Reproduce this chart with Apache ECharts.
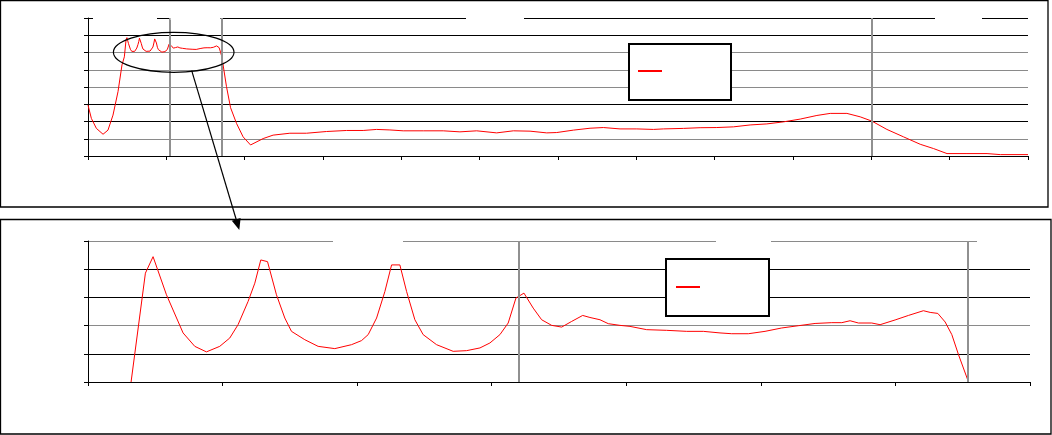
<!DOCTYPE html>
<html><head><meta charset="utf-8">
<script src="https://cdn.jsdelivr.net/npm/echarts@6/dist/echarts.min.js"></script>
<style>html,body{margin:0;padding:0;background:#fff}#c{width:1052px;height:435px}</style>
</head><body><div id="c"></div><script>
// Overview (top panel) values outside the zoomed window
const overviewHead = [[0,29.5],[4.3,21.8],[10.7,16.0],[19.2,12.6],[25.5,15.0],[31.9,23.7],[38.3,37.3],[43.4,52.8]];
const overviewTail = [[176.8,40.2],[182,28],[189.6,18.9],[198,11.1],[207.5,6.4],[223.6,10.1],[236.3,12.1],[257.7,13.2],[279,13.2],[304.5,14.2],[330.1,14.8],[351.3,14.8],[368.4,15.4],[385.4,15.1],[402.4,14.6],[428,14.6],[453.5,14.6],[474.8,14.0],[496.2,14.6],[521.7,13.4],[543,14.6],[564.3,14.4],[585.6,13.4],[598.4,13.6],[619.6,15.0],[640.9,16.1],[657.9,16.5],[679.2,15.7],[700.6,15.7],[721.8,15.4],[734.5,15.7],[760.1,16.0],[781.4,16.4],[802.7,16.5],[824,16.9],[845.3,18.0],[866.6,18.6],[887.9,19.8],[909.2,21.4],[930.5,23.5],[947.5,24.7],[968.8,24.7],[985.8,22.7],[1000.8,20.2],[1019.9,15.4],[1041.1,11.1],[1062.4,6.8],[1079.5,4.3],[1096.6,1.4],[1122.1,1.4],[1147.7,1.4],[1164.7,0.8],[1200,0.8]];
// Detail (bottom panel) values
const detailData = [[46.4,57.5],[48.53,67.15],[49.67,68.61],[51.66,65.23],[54.13,61.85],[55.87,60.66],[57.6,60.17],[59.58,60.66],[61.07,61.4],[62.3,62.58],[63.79,64.64],[64.79,66.26],[65.68,68.32],[66.68,68.17],[68.01,65.23],[69.25,63.17],[70.24,61.99],[72.22,61.25],[74.2,60.66],[76.68,60.46],[79.17,60.81],[80.65,61.17],[81.64,61.7],[82.89,63.17],[84.12,65.52],[85.12,67.88],[86.35,67.88],[87.35,65.52],[88.58,63.02],[89.81,61.7],[91.8,60.81],[94.27,60.22],[96.27,60.28],[98.25,60.52],[99.73,60.96],[101.22,61.7],[102.45,62.73],[103.6,64.94],[104.79,65.38],[106.17,64.05],[107.42,63.02],[108.91,62.52],[110.4,62.37],[111.88,62.87],[113.52,63.4],[114.6,63.22],[116.09,63.02],[117.32,62.67],[119.06,62.52],[120.55,62.43],[123.03,62.14],[126.0,62.08],[128.98,61.99],[131.45,61.99],[133.93,61.85],[135.67,61.78],[138.14,61.78],[140.62,61.99],[143.1,62.29],[145.58,62.49],[148.06,62.69],[150.54,62.76],[152.03,62.76],[153.26,62.93],[154.5,62.73],[156.48,62.73],[157.72,62.58],[159.95,63.0],[161.93,63.4],[164.16,63.82],[165.16,63.67],[166.3,63.58],[167.39,62.82],[168.38,61.7],[169.37,59.93],[170.86,57.5]];
// Reference (vertical) marker positions
const topMarkers = [104, 170.8, 1001];
const bottomMarkers = [104, 170.8];
// Axis ranges
const topX = {min:0, max:1200, interval:100};
const topY = {min:0, max:80, interval:10};
const botX = {min:40, max:180, interval:20};
const botY = {min:57.5, max:70, interval:2.5};

const topSeriesData = overviewHead.concat(detailData, overviewTail);
const K = '#000', G = '#8a8a8a';
const chart = echarts.init(document.getElementById('c'), null, {renderer:'canvas'});

function axisX(idx, r){
  return {type:'value', gridIndex:idx, min:r.min, max:r.max, interval:r.interval,
    axisLine:{show:true, onZero:false, lineStyle:{color:'#000', width:1}},
    axisTick:{show:true, length:4, lineStyle:{color:'#000'}},
    axisLabel:{show:false}, splitLine:{show:false}};
}
function axisY(idx, r, colors){
  return {type:'value', gridIndex:idx, min:r.min, max:r.max, interval:r.interval,
    axisLine:{show:true, lineStyle:{color:'#000', width:1}},
    axisTick:{show:true, length:4, lineStyle:{color:'#000'}},
    axisLabel:{show:false},
    splitLine:{show:true, lineStyle:{color:colors, width:1}}};
}
function marks(vals){
  return {silent:true, symbol:['none','none'], label:{show:false},
    lineStyle:{color:'#909090', width:2, type:'solid'},
    emphasis:{disabled:true},
    data: vals.map(v => ({xAxis:v}))};
}
const legendBase = {orient:'horizontal', itemWidth:24, itemHeight:2, icon:'rect', itemGap:0,
  borderColor:'#000', borderWidth:2, backgroundColor:'#fff', selectedMode:false,
  formatter:()=>'', textStyle:{fontSize:2, lineHeight:2}};

chart.setOption({
  animation:false,
  backgroundColor:'#fff',
  grid:[
    {left:88, right:24, top:18, bottom:279},
    {left:88, right:22, top:241, bottom:53}
  ],
  xAxis:[axisX(0, topX), axisX(1, botX)],
  yAxis:[axisY(0, topY, [K,G,K,K,G,G,G,K,K]), axisY(1, botY, [K,K,G,K,K,G])],
  legend:[
    Object.assign({}, legendBase, {data:['Overview'], left:629, top:44, padding:[26,64,28,9]}),
    Object.assign({}, legendBase, {data:['Detail'], left:666, top:259, padding:[27,64,28,10]})
  ],
  series:[
    {name:'Overview', type:'line', xAxisIndex:0, yAxisIndex:0, data:topSeriesData, showSymbol:false,
      lineStyle:{color:'#ff0000', width:1}, itemStyle:{color:'#ff0000'}, markLine:marks(topMarkers), z:3},
    {name:'Detail', type:'line', xAxisIndex:1, yAxisIndex:1, data:detailData, showSymbol:false, clip:true,
      lineStyle:{color:'#ff0000', width:1}, itemStyle:{color:'#ff0000'}, markLine:marks(bottomMarkers), z:3}
  ],
  graphic:[
    // panel frames
    {type:'rect', silent:true, z:50, shape:{x:0.5, y:0.5, width:1047.5, height:206.5}, style:{fill:null, stroke:'#000', lineWidth:1.3}},
    {type:'rect', silent:true, z:50, shape:{x:0.5, y:219.5, width:1050.5, height:214.5}, style:{fill:null, stroke:'#000', lineWidth:1.3}},
    // gaps in the top gridlines
    {type:'rect', silent:true, z:40, shape:{x:93, y:16, width:64, height:4}, style:{fill:'#fff'}},
    {type:'rect', silent:true, z:40, shape:{x:170.6, y:16, width:49.8, height:4}, style:{fill:'#fff'}},
    {type:'rect', silent:true, z:40, shape:{x:466, y:16, width:58, height:4}, style:{fill:'#fff'}},
    {type:'rect', silent:true, z:40, shape:{x:935, y:16, width:47, height:4}, style:{fill:'#fff'}},
    {type:'rect', silent:true, z:40, shape:{x:333, y:239, width:70, height:4}, style:{fill:'#fff'}},
    {type:'rect', silent:true, z:40, shape:{x:716, y:239, width:55, height:4}, style:{fill:'#fff'}},
    {type:'rect', silent:true, z:40, shape:{x:977, y:239, width:56, height:4}, style:{fill:'#fff'}},
    // ellipse around the zoomed window
    {type:'ellipse', silent:true, z:60, shape:{cx:173.7, cy:52.3, rx:60.3, ry:20}, style:{fill:null, stroke:'#000', lineWidth:1.2}},
    // arrow
    {type:'line', silent:true, z:60, shape:{x1:191.7, y1:70.7, x2:236.2, y2:219.5}, style:{stroke:'#000', lineWidth:1.2}},
    {type:'polygon', silent:true, z:60, shape:{points:[[239.3,230],[240.6,218.1],[231.8,220.8]]}, style:{fill:'#000'}}
  ]
});
</script></body></html>
